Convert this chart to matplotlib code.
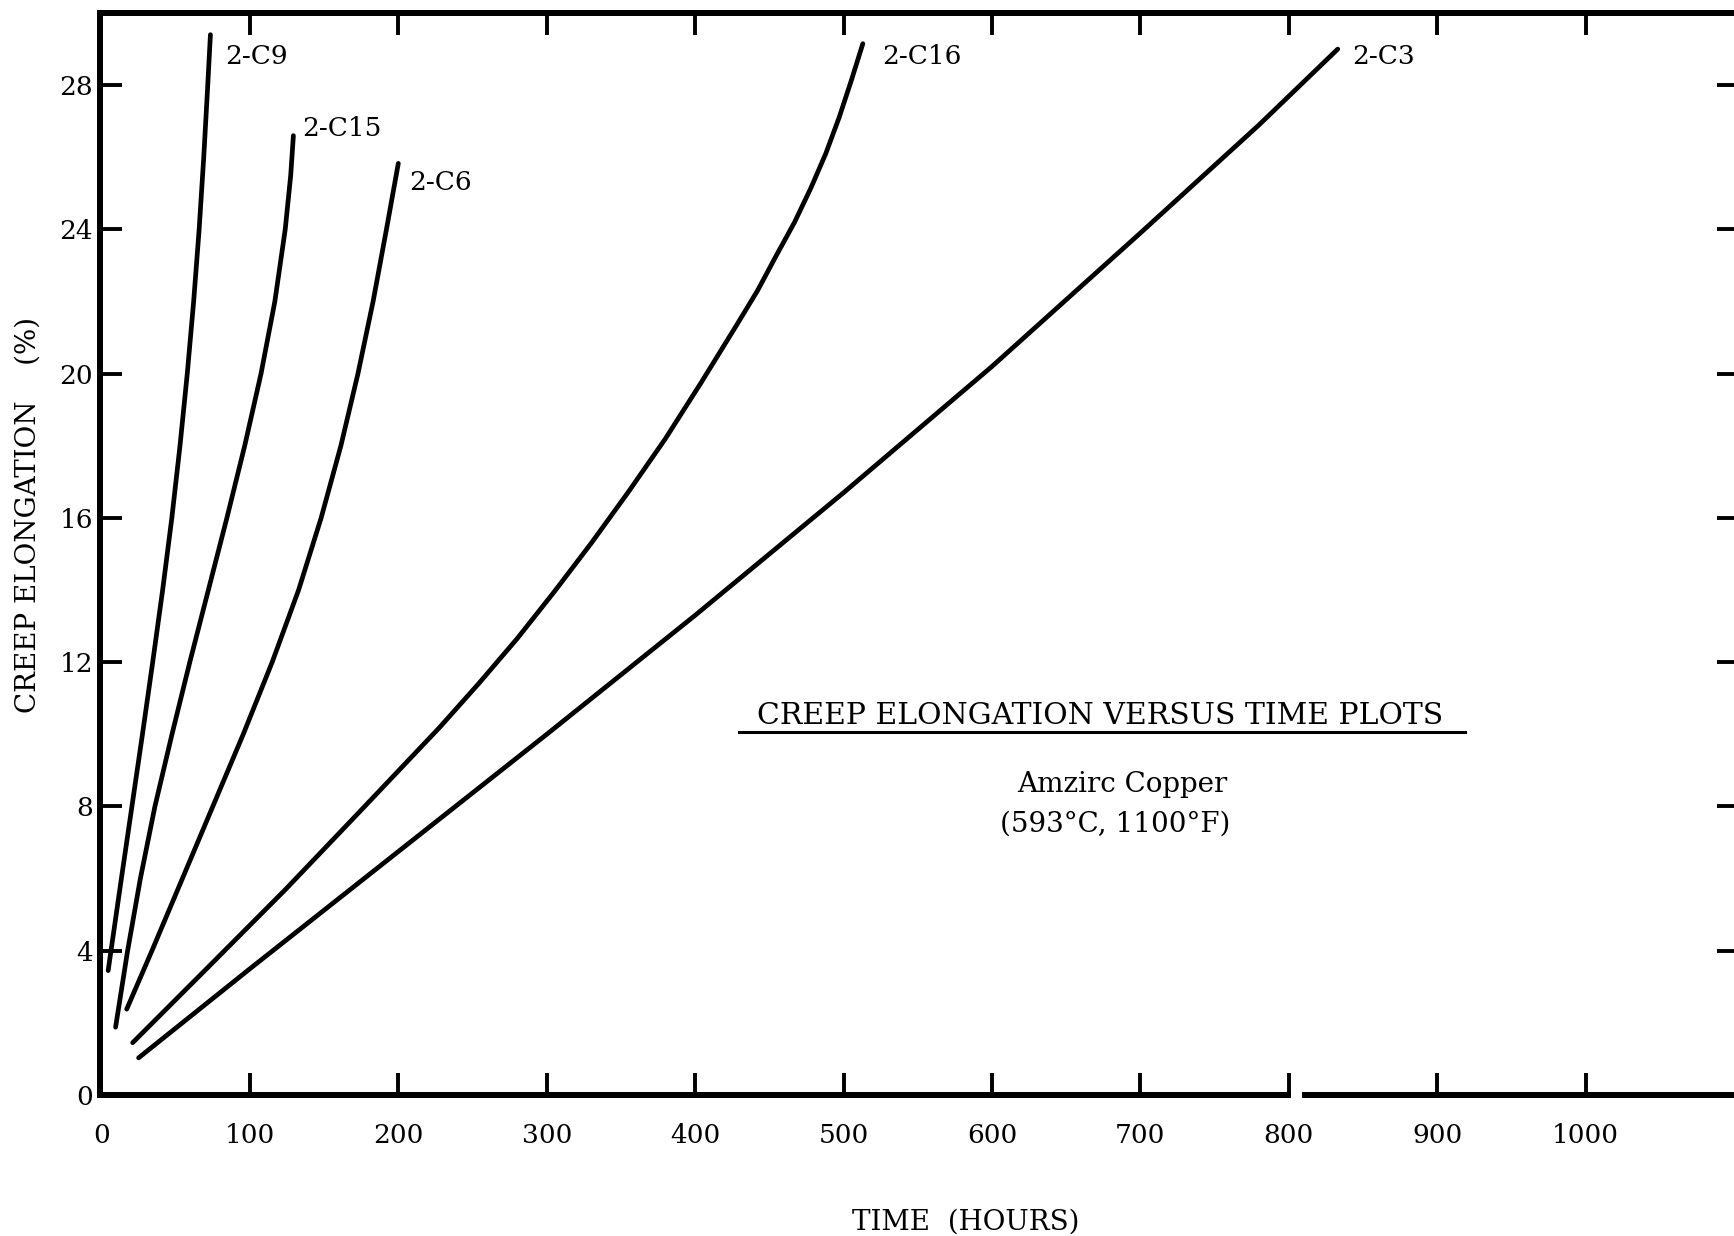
import matplotlib
matplotlib.use("Agg")
import matplotlib.pyplot as plt
from matplotlib.lines import Line2D

# ---- data (time in hours, creep elongation in %) ----
c9_time = [4.5, 6.4, 13.4, 20.5, 27.6, 34.5, 41.2, 47.4, 52.9, 57.8, 62.1, 65.8, 68.9, 71.6, 73.4]
c9_elong = [3.45, 4.0, 6.0, 8.0, 10.0, 12.0, 14.0, 16.0, 18.0, 20.0, 22.0, 24.0, 26.0, 28.0, 29.4]

c15_time = [9.5, 17.6, 26.2, 36.0, 47.5, 59.5, 72.0, 84.5, 96.5, 107.5, 116.8, 123.8, 127.5, 129.3]
c15_elong = [1.88, 4.0, 6.0, 8.0, 10.0, 12.0, 14.0, 16.0, 18.0, 20.0, 22.0, 24.0, 25.5, 26.6]

c6_time = [17.0, 34.0, 54.5, 75.0, 95.5, 115.0, 132.8, 148.0, 161.3, 172.8, 183.0, 192.0, 200.0]
c6_elong = [2.38, 4.0, 6.0, 8.0, 10.0, 12.0, 14.0, 16.0, 18.0, 20.0, 22.0, 24.0, 25.83]

c16_time = [21.0, 72.0, 124.0, 175.0, 228.0, 254.0, 280.0, 305.0, 330.0, 355.0, 380.0, 404.0,
            428.0, 442.0, 455.0, 467.0, 478.0, 488.0, 497.0, 505.0, 513.0]
c16_elong = [1.45, 3.55, 5.7, 7.9, 10.2, 11.4, 12.65, 13.95, 15.3, 16.72, 18.2, 19.75,
             21.35, 22.3, 23.3, 24.2, 25.15, 26.1, 27.1, 28.1, 29.15]

c3_time = [25.0, 100.0, 200.0, 300.0, 400.0, 500.0, 600.0, 700.0, 780.0, 833.0]
c3_elong = [1.03, 3.5, 6.75, 10.0, 13.3, 16.7, 20.2, 23.9, 26.9, 29.0]

series_names = ["2-C9", "2-C15", "2-C6", "2-C16", "2-C3"]
series_time = [c9_time, c15_time, c6_time, c16_time, c3_time]
series_elong = [c9_elong, c15_elong, c6_elong, c16_elong, c3_elong]
label_pos = [(83.5, 28.8), (135.0, 26.8), (207.0, 25.3), (526.0, 28.8), (843.0, 28.8)]

x_ticks = [0, 100, 200, 300, 400, 500, 600, 700, 800, 900, 1000]
x_tick_labels = ["0", "100", "200", "300", "400", "500", "600", "700", "800", "900", "1000"]
y_ticks = [0, 4, 8, 12, 16, 20, 24, 28]
y_tick_labels = ["0", "4", "8", "12", "16", "20", "24", "28"]

FONT = "DejaVu Serif"
plt.rcParams["font.family"] = [FONT, "DejaVu Sans"]

W, H = 1734, 1236
fig = plt.figure(figsize=(W / 100, H / 100), dpi=100)
ax = fig.add_axes([100 / W, 141 / H, 1638.5 / W, 1082 / H])

for t, e in zip(series_time, series_elong):
    ax.plot(t, e, color="black", lw=3.4, solid_capstyle="round", solid_joinstyle="round")

for name, (lx, ly) in zip(series_names, label_pos):
    ax.text(lx, ly, name, fontsize=19, ha="left", va="center", color="black")

ax.set_xticks(x_ticks)
ax.set_xticklabels(x_tick_labels)
ax.set_yticks(y_ticks)
ax.set_yticklabels(y_tick_labels)

ax.tick_params(axis="both", direction="in", length=16, width=2.8, color="black",
               labelsize=19, top=True, right=True)
ax.tick_params(axis="x", pad=20)
ax.tick_params(axis="y", pad=5)

for side in ["left", "top", "right"]:
    ax.spines[side].set_linewidth(4.3)
ax.spines["bottom"].set_visible(False)

# bottom spine drawn with the small break seen near 800 h
tr = ax.get_xaxis_transform()
for x0, x1 in [(-1, 801.5), (809, 1103)]:
    ax.add_line(Line2D([x0, x1], [0, 0], transform=tr, clip_on=False,
                       color="black", lw=4.3, solid_capstyle="butt"))

# annotation block
ax.text(672.8, 10.5, "CREEP ELONGATION VERSUS TIME PLOTS", fontsize=21.5,
        ha="center", va="center")
ax.plot([429.8, 918.7], [10.06, 10.06], color="black", lw=2.2)
ax.text(688, 8.6, "Amzirc Copper", fontsize=20, ha="center", va="center")
ax.text(683, 7.5, "(593°C, 1100°F)", fontsize=20, ha="center", va="center")

ax.set_xlim(-1, 1103)
ax.set_ylim(0, 30)

fig.text(28 / W, 1 - 515 / H, "CREEP ELONGATION    (%)", rotation=90,
         ha="center", va="center", fontsize=20)
fig.text(966 / W, 1 - 1222 / H, "TIME  (HOURS)", ha="center", va="center", fontsize=20)

fig.savefig("out.png", dpi=100, facecolor="white")
